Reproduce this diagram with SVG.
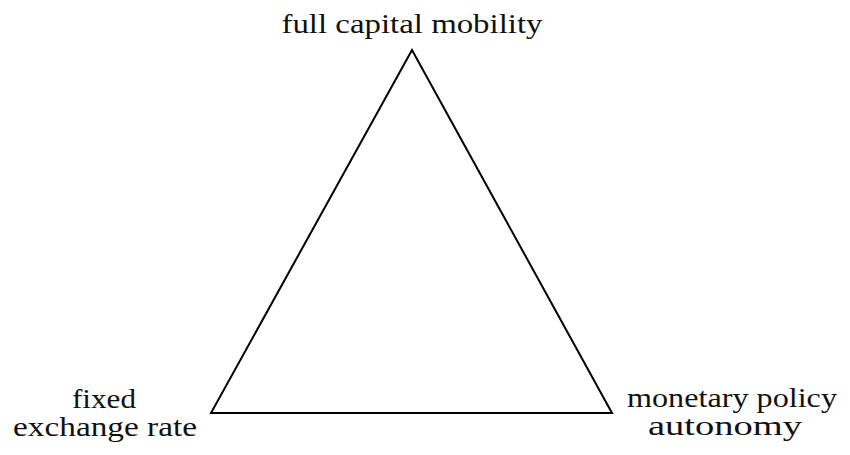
<svg xmlns="http://www.w3.org/2000/svg" width="850" height="455" viewBox="0 0 850 455">
<style>
.lbl{font-family:"Liberation Serif","DejaVu Serif",serif;font-size:28px;fill:#111;text-anchor:middle}
.edge{fill:none;stroke:#000;stroke-width:2;stroke-linejoin:miter}
</style>
<rect width="850" height="455" fill="#fff"/>
<g id="connectors">
<polygon class="edge" points="412,50 211,413 612,413"/>
</g>
<g id="node-capital"><text class="lbl" x="412" y="33" textLength="261" lengthAdjust="spacingAndGlyphs">full capital mobility</text></g>
<g id="node-fixed"><text class="lbl" x="104" y="408" textLength="64" lengthAdjust="spacingAndGlyphs">fixed</text><text class="lbl" x="105" y="436" textLength="184" lengthAdjust="spacingAndGlyphs">exchange rate</text></g>
<g id="node-monetary"><text class="lbl" x="732" y="407" textLength="210" lengthAdjust="spacingAndGlyphs">monetary policy</text><text class="lbl" x="725" y="435" textLength="154" lengthAdjust="spacingAndGlyphs">autonomy</text></g>
</svg>
